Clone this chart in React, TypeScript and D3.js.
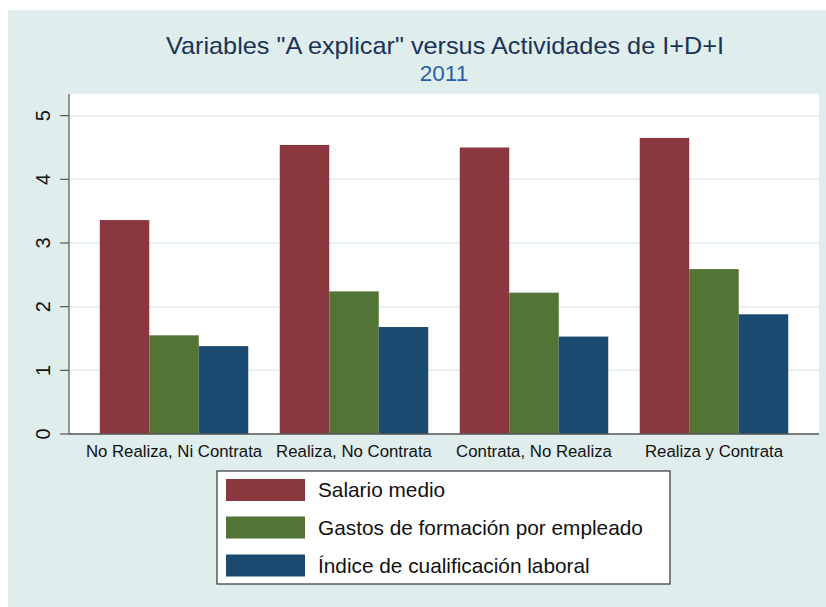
import React from 'react';
import * as d3 from 'd3';

const categories = ['No Realiza, Ni Contrata', 'Realiza, No Contrata', 'Contrata, No Realiza', 'Realiza y Contrata'];
const seriesNames = ['Salario medio', 'Gastos de formación por empleado', 'Índice de cualificación laboral'];
const salario = [3.36, 4.54, 4.50, 4.65];
const gastos = [1.55, 2.24, 2.22, 2.59];
const indice = [1.38, 1.68, 1.53, 1.88];
const yTicks = [0, 1, 2, 3, 4, 5];
const colors = ['#8a3740', '#527536', '#1a4a70'];

const W = 826;
const H = 607;
const plot = { left: 69, right: 819, top: 94, bottom: 434 };
const font = 'Liberation Sans, Arial, sans-serif';

export default function App() {
  const series = [salario, gastos, indice];

  const x0 = d3.scaleBand<string>()
    .domain(categories)
    .range([plot.left, plot.right])
    .paddingInner(0.175)
    .paddingOuter(0.171);

  const x1 = d3.scaleBand<number>()
    .domain(d3.range(series.length))
    .range([0, x0.bandwidth()]);

  const y = d3.scaleLinear()
    .domain([0, 5.34])
    .range([plot.bottom, plot.top]);

  const legendRows = [490, 527.5, 565.5];

  return (
    <svg width={W} height={H} style={{ position: 'absolute', left: 0, top: 0 }}>
      <rect x={8} y={10} width={W - 8} height={H - 10} fill="#dfeded" />
      <rect x={plot.left} y={plot.top} width={plot.right - plot.left} height={plot.bottom - plot.top} fill="#ffffff" />

      {yTicks.filter(t => t > 0).map(t => (
        <line key={'g' + t} x1={plot.left} x2={plot.right} y1={y(t)} y2={y(t)} stroke="#e2eeee" strokeWidth={1.5} />
      ))}

      {categories.map((c, i) => (
        <g key={c}>
          {series.map((s, j) => (
            <rect
              key={j}
              x={(x0(c) as number) + (x1(j) as number)}
              y={y(s[i])}
              width={x1.bandwidth()}
              height={y(0) - y(s[i])}
              fill={colors[j]}
            />
          ))}
          <text
            x={(x0(c) as number) + x0.bandwidth() / 2}
            y={457}
            textAnchor="middle"
            fontFamily={font}
            fontSize={16.8}
            fill="#111"
          >{c}</text>
        </g>
      ))}

      <line x1={plot.left} x2={plot.left} y1={plot.top} y2={plot.bottom} stroke="#555" strokeWidth={1.2} />
      <line x1={plot.left} x2={plot.right} y1={plot.bottom} y2={plot.bottom} stroke="#555" strokeWidth={1.5} />

      {yTicks.map(t => (
        <g key={t}>
          <line x1={plot.left - 9} x2={plot.left} y1={y(t)} y2={y(t)} stroke="#555" strokeWidth={1.2} />
          <text
            transform={`translate(50,${y(t)}) rotate(-90)`}
            textAnchor="middle"
            fontFamily={font}
            fontSize={20}
            fill="#111"
          >{t}</text>
        </g>
      ))}

      <text x={445} y={54} textAnchor="middle" fontFamily={font} fontSize={24} fill="#1a3358"
        textLength={558} lengthAdjust="spacingAndGlyphs">
        Variables "A explicar" versus Actividades de I+D+I
      </text>
      <text x={444} y={81} textAnchor="middle" fontFamily={font} fontSize={22.5} fill="#2b5ea8">2011</text>

      <rect x={217} y={471} width={453} height={113} fill="#ffffff" stroke="#333" strokeWidth={1.2} />
      {seriesNames.map((n, j) => (
        <g key={n}>
          <rect x={226} y={legendRows[j] - 11} width={79} height={22} fill={colors[j]} />
          <text x={318} y={legendRows[j] + 7} fontFamily={font} fontSize={20.8} fill="#111">{n}</text>
        </g>
      ))}
    </svg>
  );
}
